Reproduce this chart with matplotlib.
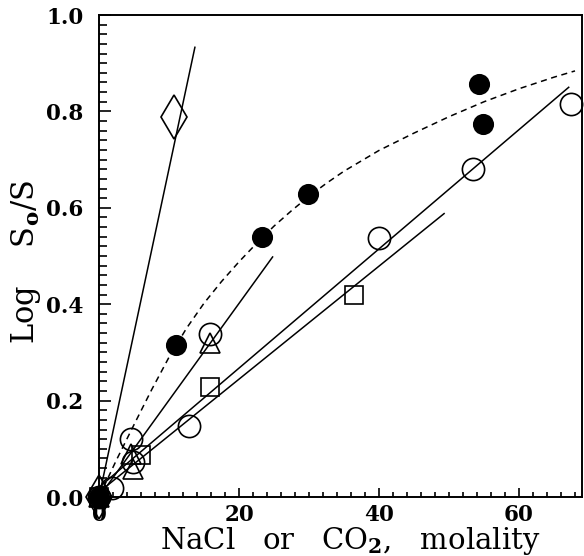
import matplotlib.pyplot as plt

plt.rcParams['font.family'] = ['DejaVu Serif']
plt.rcParams['font.weight'] = 'bold'
plt.rcParams['mathtext.fontset'] = 'custom'
plt.rcParams['mathtext.rm'] = 'DejaVu Serif:bold'
plt.rcParams['mathtext.it'] = 'DejaVu Serif:bold'

# open circles
oc_x = [0, 1.8, 4.5, 4.9, 12.9, 15.9, 40.0, 53.4, 67.4]
oc_y = [0, 0.018, 0.12, 0.072, 0.148, 0.339, 0.538, 0.680, 0.815]
# filled circles
fc_x = [0, 11.0, 23.3, 29.8, 54.3, 54.9]
fc_y = [0, 0.316, 0.539, 0.629, 0.857, 0.773]
# triangles
tr_x = [0, 4.6, 4.8, 15.8]
tr_y = [0, 0.09, 0.058, 0.32]
# squares
sq_x = [0, 6.0, 15.9, 36.4]
sq_y = [0, 0.088, 0.229, 0.42]
# diamonds
dm_x = [0, 10.7]
dm_y = [0, 0.789]

# fitted straight lines (end points)
lines = [
    ([0, 13.7], [0, 0.933]),
    ([0, 24.8], [0, 0.498]),
    ([0, 67.1], [0.02, 0.850]),
    ([0, 49.3], [0.01, 0.588]),
]

# dashed curve
curve_x = [0, 2.5, 5, 7.5, 10, 12.5, 15, 17.5, 20, 22.5, 25, 27.5, 30, 32.5,
           35, 40, 45, 50, 55, 60, 65, 68]
curve_y = [0, 0.077, 0.150, 0.222, 0.290, 0.350, 0.402, 0.447, 0.488, 0.526,
           0.562, 0.594, 0.624, 0.651, 0.676, 0.719, 0.755, 0.789, 0.820,
           0.847, 0.871, 0.884]

fig = plt.figure(figsize=(5.84, 5.56), dpi=100)
ax = fig.add_axes([99 / 584, 1 - 497 / 556, 483 / 584, 482 / 556])

for lx, ly in lines:
    ax.plot(lx, ly, color='black', lw=1.1)
ax.plot(curve_x, curve_y, color='black', lw=1.1, dashes=(4, 3))

mk = dict(linestyle='none', color='black', mew=1.2, clip_on=False, zorder=5)
ax.plot(oc_x, oc_y, marker='o', ms=16, mfc='none', **mk)
ax.plot(fc_x, fc_y, marker='o', ms=14, mfc='black', **mk)
ax.plot(tr_x, tr_y, marker='^', ms=15, mfc='none', **mk)
ax.plot(sq_x, sq_y, marker='s', ms=13.5, mfc='none', **mk)
ax.plot(dm_x, dm_y, marker='d', ms=22, mfc='none', **mk)

ax.set_xlim(0, 69)
ax.set_ylim(0, 1.0)
ax.set_xticks([0, 20, 40, 60])
ax.set_xticks(range(0, 69, 2), minor=True)
ax.set_yticks([0, 0.2, 0.4, 0.6, 0.8, 1.0])
ax.set_yticks([i * 0.02 for i in range(51)], minor=True)
ax.set_yticklabels(['0.0', '0.2', '0.4', '0.6', '0.8', '1.0'])

ax.tick_params(axis='both', which='both', direction='in', top=False, right=False,
               labelsize=15.5, width=1.2)
ax.tick_params(axis='x', which='major', length=6.5, pad=5)
ax.tick_params(axis='x', which='minor', length=3.6)
ax.tick_params(axis='y', which='major', length=8.5, pad=11)
ax.tick_params(axis='y', which='minor', length=5.5)
for s in ax.spines.values():
    s.set_linewidth(1.4)

ax.set_xlabel('NaCl   or   CO$_2$,   molality', fontsize=21)
ax.set_ylabel('Log    S$_\\mathrm{o}$/S', fontsize=22)
ax.xaxis.set_label_coords(0.521, -0.058)
ax.yaxis.set_label_coords(-0.115, 0.487)

fig.savefig('out.png', dpi=100)
